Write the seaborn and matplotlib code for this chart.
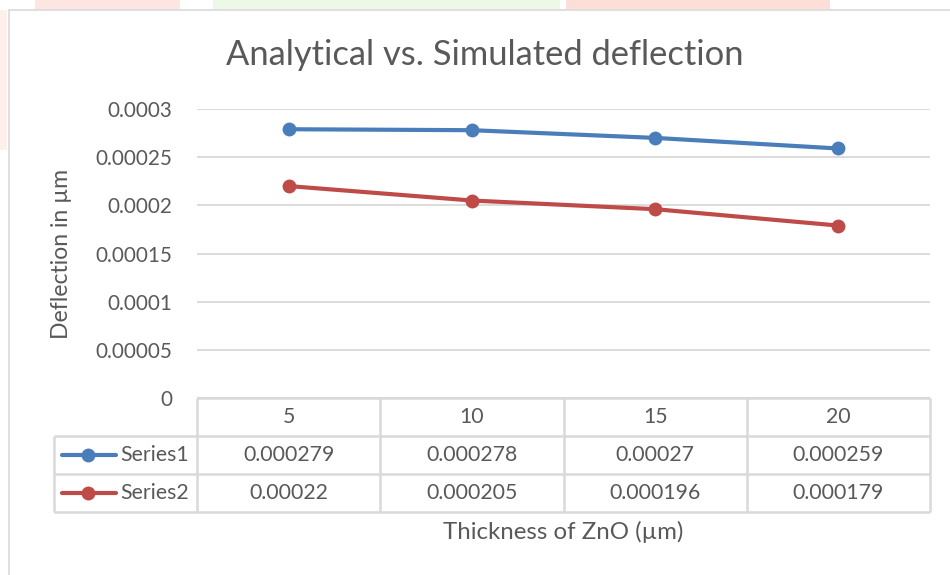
import numpy as np
import pandas as pd
import seaborn as sns
import matplotlib.pyplot as plt
from matplotlib.patches import Rectangle

categories = ["5", "10", "15", "20"]
series_names = ["Series1", "Series2"]
series1 = [0.000279, 0.000278, 0.00027, 0.000259]
series2 = [0.00022, 0.000205, 0.000196, 0.000179]
cell_text1 = ["0.000279", "0.000278", "0.00027", "0.000259"]
cell_text2 = ["0.00022", "0.000205", "0.000196", "0.000179"]
y_ticks = [0, 0.00005, 0.0001, 0.00015, 0.0002, 0.00025, 0.0003]
y_tick_labels = ["0", "0.00005", "0.0001", "0.00015", "0.0002", "0.00025", "0.0003"]
colors = ["#4A7EBB", "#BE4B48"]

sns.set_theme(style="white")
plt.rcParams["font.family"] = ["Lato", "DejaVu Sans"]
TXT = "#595959"
GRID = "#D9D9D9"
FS_TICK = 14.9
FS_TAB = 15.3

W, H = 950, 575
fig = plt.figure(figsize=(W / 100, H / 100), dpi=100)
fig.patch.set_facecolor("white")


def frect(x0, y0, x1, y1, **kw):
    fig.add_artist(Rectangle((x0 / W, 1 - y1 / H), (x1 - x0) / W, (y1 - y0) / H,
                             transform=fig.transFigure, **kw))


# faint background page marks
frect(35, 0, 180, 9, color="#FDE6E2", lw=0)
frect(213, 0, 560, 9, color="#EEF8E6", lw=0)
frect(566, 0, 830, 9, color="#FDDED8", lw=0)
frect(0, 10, 7, 150, color="#FEEFEC", lw=0)
# chart outer border
frect(9, 10, 960, 590, fill=False, edgecolor="#D9D9D9", lw=1.2)

px_l, px_r, px_t, px_b = 197, 930, 109, 398
ax = fig.add_axes([px_l / W, 1 - px_b / H, (px_r - px_l) / W, (px_b - px_t) / H])

df = pd.DataFrame({
    "pos": list(range(len(categories))) * 2,
    "value": series1 + series2,
    "series": [series_names[0]] * len(categories) + [series_names[1]] * len(categories),
})
sns.lineplot(data=df, x="pos", y="value", hue="series", palette=colors, marker="o",
             markersize=10, markeredgewidth=0, linewidth=3.0, legend=False, ax=ax, sort=False)

ax.set_xlim(-0.5, len(categories) - 0.5)
ax.set_ylim(0, 0.0003)
ax.set_yticks(y_ticks)
ax.set_yticklabels(y_tick_labels, color=TXT, fontsize=FS_TICK)
ax.set_xticks([])
ax.set_xlabel("")
ax.set_ylabel("")
ax.tick_params(axis="y", length=0, pad=18)
for s in ax.spines.values():
    s.set_visible(False)
ax.yaxis.grid(True, color=GRID, lw=1.3)
ax.set_axisbelow(True)
ax.patch.set_alpha(0)

fig.text(485 / W, 1 - 55 / H, "Analytical vs. Simulated deflection", ha="center", va="center",
         fontsize=24.8, color=TXT)
fig.text(62 / W, 1 - 254 / H, "Deflection in µm", ha="center", va="center", rotation=90,
         fontsize=16.6, color=TXT)
fig.text(563 / W, 1 - 532 / H, "Thickness of ZnO (µm)", ha="center", va="center",
         fontsize=17.3, color=TXT)

# data table
t_l, t_b = 54, 512
row_h = 38
tab = fig.add_axes([t_l / W, 1 - t_b / H, (px_r - t_l) / W, (t_b - px_b) / H])
tab.set_xlim(t_l, px_r)
tab.set_ylim(t_b, px_b)
tab.axis("off")
n = len(categories)
colw = (px_r - px_l) / n
edges = [px_l + colw * k for k in range(n + 1)]
rows = [px_b, px_b + row_h, px_b + 2 * row_h, px_b + 3 * row_h]
lk = dict(color=GRID, lw=1.8, solid_capstyle="butt", clip_on=False)
for e in edges:
    tab.plot([e, e], [rows[0], rows[3]], **lk)
tab.plot([t_l, t_l], [rows[1], rows[3]], **lk)
tab.plot([px_l, px_r], [rows[0], rows[0]], **lk)
for r in rows[1:]:
    tab.plot([t_l, px_r], [r, r], **lk)

for i, c in enumerate(categories):
    cx = px_l + colw * (i + 0.5)
    tab.text(cx, (rows[0] + rows[1]) / 2, c, ha="center", va="center", fontsize=FS_TAB, color=TXT)
    tab.text(cx, (rows[1] + rows[2]) / 2, cell_text1[i], ha="center", va="center", fontsize=FS_TAB, color=TXT)
    tab.text(cx, (rows[2] + rows[3]) / 2, cell_text2[i], ha="center", va="center", fontsize=FS_TAB, color=TXT)

for j, name in enumerate(series_names):
    cy = (rows[j + 1] + rows[j + 2]) / 2
    tab.plot([62, 116], [cy, cy], color=colors[j], lw=3.0, solid_capstyle="round", clip_on=False)
    tab.plot([88], [cy], marker="o", color=colors[j], markersize=10, markeredgewidth=0, clip_on=False)
    tab.text(120, cy, name, ha="left", va="center", fontsize=FS_TAB, color=TXT)

fig.savefig("out.png", dpi=100, facecolor="white")
